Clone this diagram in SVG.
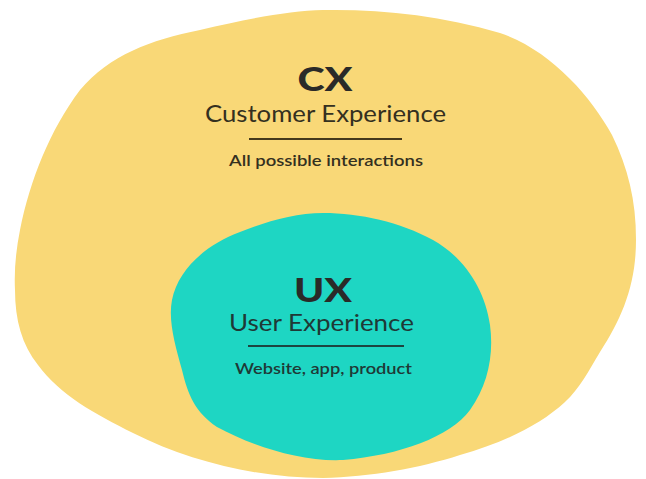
<svg xmlns="http://www.w3.org/2000/svg" width="646" height="479" viewBox="0 0 646 479">
<style>
.t{font-family:Lato,"Open Sans","Liberation Sans",sans-serif;text-anchor:middle}
.big{font-size:33px;font-weight:900;fill:#2a2a28}
.mid{font-size:24px;font-weight:400}
.sm{font-size:15.5px;font-weight:600}
.y{fill:#34301f}
.g{fill:#1f3936}
.ry{stroke:#45391c;stroke-width:2}
.rg{stroke:#1d4540;stroke-width:2}
</style>
<rect width="646" height="479" fill="#ffffff"/>
<g id="cx">
<path d="M323 10 C380 9 440 15 500 33 C550 50 590 95 612 135 C628 168 636 200 636 240 C636 285 622 318 600 352 C588 372 580 388 565 402 C540 425 505 442 460 455 C420 468 370 477 323 478 C260 478 190 462 133 433 C95 414 60 395 38 365 C22 345 15 320 15 290 C14 270 16 250 20 230 C30 180 50 130 80 90 C110 55 150 40 200 30 C250 18 290 11 323 10 Z" fill="#F9D877"/>
<text class="t big" x="325" y="91" textLength="55" lengthAdjust="spacingAndGlyphs">CX</text>
<text class="t mid y" x="325.5" y="122" textLength="241" lengthAdjust="spacingAndGlyphs">Customer Experience</text>
<line class="ry" x1="249" y1="139" x2="402" y2="139"/>
<text class="t sm y" x="326" y="166" textLength="194" lengthAdjust="spacingAndGlyphs">All possible interactions</text>
</g>
<g id="ux">
<path d="M323 213 C360 213 400 222 433 240 C465 258 485 290 490 325 C494 355 488 385 470 410 C450 437 400 455 343 460 C300 462 250 445 217 427 C195 412 188 395 182 370 C175 345 168 320 172 300 C178 270 205 245 240 232 C265 222 295 213 323 213 Z" fill="#1ED6C3"/>
<text class="t big" x="323" y="302" textLength="58" lengthAdjust="spacingAndGlyphs">UX</text>
<text class="t mid g" x="321.5" y="331" textLength="185" lengthAdjust="spacingAndGlyphs">User Experience</text>
<line class="rg" x1="248" y1="346" x2="404" y2="346"/>
<text class="t sm g" x="323.5" y="374" textLength="177" lengthAdjust="spacingAndGlyphs">Website, app, product</text>
</g>
<g id="connectors"></g>
</svg>
